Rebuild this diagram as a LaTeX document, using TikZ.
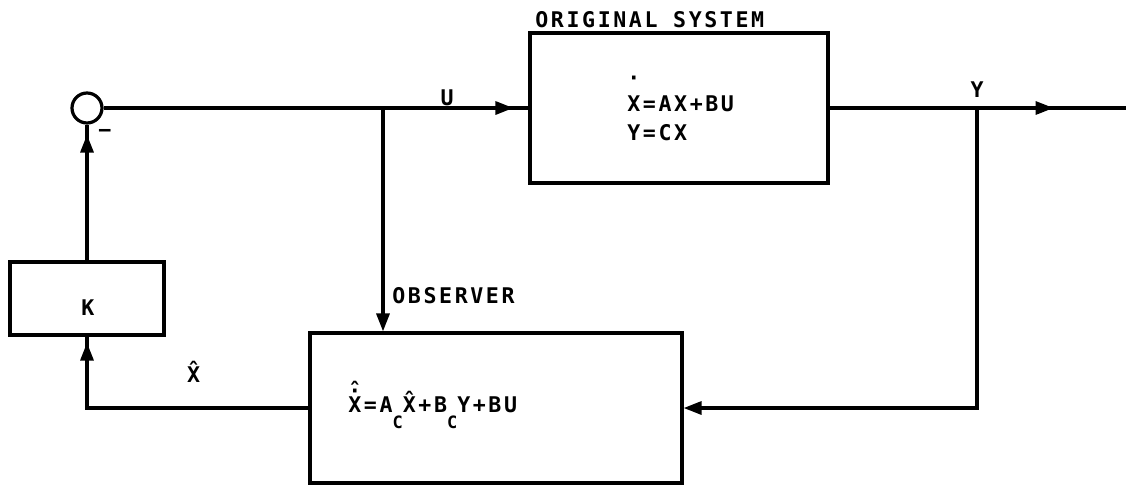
\documentclass[tikz,border=0pt]{standalone}
\usepackage{fontspec}
\setmainfont{DejaVu Sans Mono}[LetterSpace=12]
\usetikzlibrary{arrows.meta,decorations.markings}
\newlength{\xw}
\newcommand{\subc}{\raisebox{-8pt}{\fontsize{8.5}{9}\selectfont C}}
\newcommand{\accx}[1]{{\addfontfeature{LetterSpace=0}X#1}\kern1.3pt}
\newcommand{\topx}[1]{{\addfontfeature{LetterSpace=0}\settowidth{\xw}{X}%
    \makebox[0pt][l]{\makebox[\xw]{#1}}X}\kern1.3pt}
\begin{document}
\begin{tikzpicture}[x=0.5pt, y=-0.5pt,
    blk/.style={draw, line width=1.6pt, inner sep=0pt},
    sig/.style={line width=1.6pt},
    lbl/.style={font=\fontsize{10.8}{12}\selectfont\bfseries, inner sep=0pt},
    arr/.style={-{Triangle[length=9pt,width=6.5pt]}},
    tipat/.style={postaction={decorate}, decoration={markings,
        mark=at position #1 with {\arrow{Triangle[length=9pt,width=6.5pt]}}}}]
    \useasboundingbox (0,0) rectangle (1126,489);
    \node[blk, circle, minimum size=15pt] (sum) at (87,108) {};
    \node[blk, rectangle, minimum width=149pt, minimum height=75pt] (plant) at (679,108) {};
    \node[blk, rectangle, minimum width=186pt, minimum height=75pt] (obs) at (496,408) {};
    \node[blk, rectangle, minimum width=77pt, minimum height=36.5pt] (gain) at (87,298.5) {};
    \coordinate (ub) at (383,108);
    \coordinate (yb) at (977,108);
    \coordinate (out) at (1126,108);
    \coordinate (fb) at (977,408);
    \coordinate (xb) at (87,408);
    \draw[sig, tipat=-7.5pt] (sum) -- (plant.west |- sum);
    \draw[sig, tipat=112pt] (plant.east |- yb) -- (out);
    \draw[sig, arr] (yb) -- (fb) -- (obs.east);
    \draw[sig, arr] (ub) -- (ub |- obs.north);
    \draw[sig, tipat=-3pt] (obs.west) -- (xb) -- (gain.south);
    \draw[sig, tipat=-5pt] (gain.north) -- (sum.south);
    \node[lbl, anchor=base west] (ttl) at (535,27) {ORIGINAL SYSTEM};
    \node[lbl, anchor=base west] (eq1) at (627,111) {\topx{\raisebox{13pt}{·}}=AX+BU};
    \node[lbl, anchor=base west] (eq2) at (627,140) {Y=CX};
    \node[lbl, anchor=base west] (eq3) at (348,412)
        {\topx{\makebox[0pt]{\raisebox{7pt}{·}}\makebox[0pt]{\raisebox{7pt}{ˆ}}}=A\subc\accx{^^^^0302}+B\subc Y+BU};
    \node[lbl] (ktxt) at (88,308) {K};
    \node[lbl, anchor=base] (ulbl) at (447,105) {U};
    \node[lbl, anchor=base] (ylbl) at (977,97) {Y};
    \node[lbl, anchor=base west] (olbl) at (392,303) {OBSERVER};
    \node[lbl, anchor=base] (xlbl) at (195,382) {\accx{^^^^0302}};
    \node[lbl] (minus) at (105,133) {−};
\end{tikzpicture}
\end{document}
